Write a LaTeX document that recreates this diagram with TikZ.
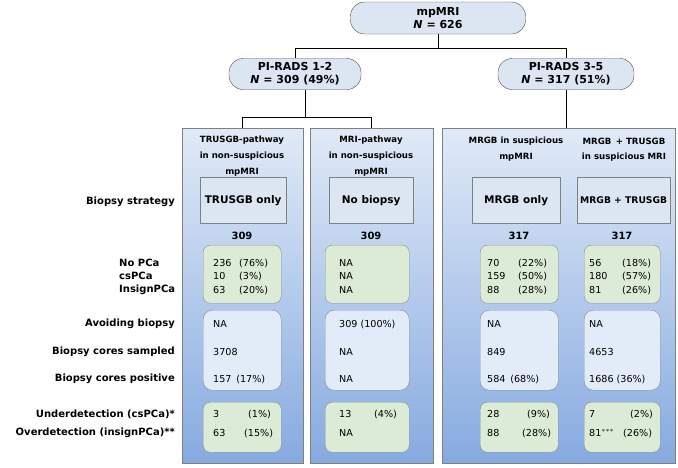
\documentclass[tikz,border=0pt]{standalone}
\usepackage{fontspec}
\setmainfont{DejaVu Sans}
\usetikzlibrary{positioning}
\definecolor{boxblue}{HTML}{DCE6F2}
\definecolor{coltop}{HTML}{E0EAF7}
\definecolor{colbot}{HTML}{86AAE0}
\definecolor{boxgreen}{HTML}{DCEBD5}
\definecolor{boxpale}{HTML}{E2ECF8}
\begin{document}
\begin{tikzpicture}[x=1pt, y=-1pt, font=\fontsize{9.6}{11}\selectfont]
\tikzstyle{level} = [draw=black!70, fill=boxblue, rounded corners=14pt,
    font=\fontsize{11}{13}\selectfont\bfseries, align=center, inner sep=1pt]
\tikzstyle{column} = [draw=black!50, top color=coltop, bottom color=colbot,
    inner sep=0pt, anchor=north west]
\tikzstyle{strategy} = [draw=black!50, fill=boxblue, anchor=north west,
    inner sep=0pt, font=\fontsize{10.5}{12}\selectfont\bfseries]
\tikzstyle{result} = [draw=black!45, fill=boxgreen, rounded corners=7pt,
    anchor=north west, inner sep=0pt]
\tikzstyle{cores} = [draw=black!45, fill=boxpale, rounded corners=9pt,
    anchor=north west, inner sep=0pt]
\tikzstyle{rowlabel} = [anchor=east, font=\fontsize{10}{12}\selectfont\bfseries, inner sep=0pt]
\tikzstyle{val} = [anchor=west, inner sep=0pt]
\tikzstyle{head} = [font=\fontsize{8.6}{10}\selectfont\bfseries, inner sep=0pt]
\tikzstyle{line} = [draw, thick]
\useasboundingbox (0,0) rectangle (678,467);

 % tree
 \node [level, minimum width=175pt, minimum height=32pt] (mpmri) at (438,18) {mpMRI\\ \textit{N} = 626};
 \node [level, minimum width=132pt, minimum height=31pt] (pirlow) at (295,74) {PI-RADS 1-2\\ \textit{N} = 309 (49\%)};
 \node [level, minimum width=136pt, minimum height=31pt] (pirhigh) at (566,74) {PI-RADS 3-5\\ \textit{N} = 317 (51\%)};

 % columns
 \node [column, minimum width=121pt, minimum height=335pt] (trus) at (182,128) {};
 \node [column, minimum width=123pt, minimum height=335pt] (mri) at (310,128) {};
 \node [column, minimum width=233pt, minimum height=335pt] (sus) at (442,128) {};

 \coordinate (split) at (305,117);
 \path [line] (mpmri.south) -- ++(0,14) -| (pirlow.north);
 \path [line] (mpmri.south) -- ++(0,14) -| (pirhigh.north);
 \path [line] (pirlow.south -| split) -- (split);
 \path [line] (split) -| (trus.north);
 \path [line] (split) -| (mri.north);
 \path [line] (pirhigh.south) -- (pirhigh.south |- sus.north);

 % headers
 \node [head] (h1) at (242,140) {TRUSGB-pathway};
 \node [head] (h2) at (242,156) {in non-suspicious};
 \node [head] (h3) at (242,172) {mpMRI};
 \node [head] (h4) at (371,140) {MRI-pathway};
 \node [head] (h5) at (371,156) {in non-suspicious};
 \node [head] (h6) at (371,172) {mpMRI};
 \node [head] (h7) at (516,141) {MRGB in suspicious};
 \node [head] (h8) at (516,157) {mpMRI};
 \node [head] (h9) at (624,141) {MRGB\, + TRUSGB};
 \node [head] (h10) at (624,157) {in suspicious MRI};

 % strategy
 \node [rowlabel] (strat) at (175,202) {Biopsy strategy};
 \node [strategy, minimum width=86pt, minimum height=46pt] (s1) at (200,177) {TRUSGB only};
 \node [strategy, minimum width=84pt, minimum height=46pt] (s2) at (329,177) {No biopsy};
 \node [strategy, minimum width=88pt, minimum height=46pt] (s3) at (472,177) {MRGB only};
 \node [strategy, minimum width=93pt, minimum height=46pt,
   font=\fontsize{9.2}{11}\selectfont\bfseries] (s4) at (577,177) {MRGB + TRUSGB};

 \node [head, font=\fontsize{10}{12}\selectfont\bfseries] (n1) at (242,236) {309};
 \node [head, font=\fontsize{10}{12}\selectfont\bfseries] (n2) at (371,236) {309};
 \node [head, font=\fontsize{10}{12}\selectfont\bfseries] (n3) at (519,236) {317};
 \node [head, font=\fontsize{10}{12}\selectfont\bfseries] (n4) at (622,236) {317};

 % outcome
 \node [rowlabel, anchor=west] (nopca) at (119,263) {No PCa};
 \node [rowlabel, anchor=west] (cspca) at (119,276) {csPCa};
 \node [rowlabel, anchor=west] (inpca) at (119,290) {InsignPCa};
 \node [result, minimum width=78pt, minimum height=58pt] (r1) at (203,245) {};
 \node [result, minimum width=84pt, minimum height=58pt] (r2) at (325,245) {};
 \node [result, minimum width=78pt, minimum height=58pt] (r3) at (480,245) {};
 \node [result, minimum width=76pt, minimum height=58pt] (r4) at (584,245) {};
 \foreach \y/\a/\b/\c/\d/\e/\f/\g/\h in {263/236/76/70/22/56/18/NA/NA,
     276/10/3/159/50/180/57/NA/NA, 290/63/20/88/28/81/26/NA/NA} {
   \node [val] at (213,\y) {\a};
   \node [val] at (239,\y) {(\b\%)};
   \node [val] at (487,\y) {\c};
   \node [val] at (518,\y) {(\d\%)};
   \node [val] at (589,\y) {\e};
   \node [val] at (622,\y) {(\f\%)};
   \node [val] at (339,\y) {\g};
 }

 % cores
 \node [rowlabel] (avoid) at (175,324) {Avoiding biopsy};
 \node [rowlabel] (sampled) at (175,352) {Biopsy cores sampled};
 \node [rowlabel] (positive) at (175,379) {Biopsy cores positive};
 \node [cores, minimum width=78pt, minimum height=80pt] (c1) at (203,310) {};
 \node [cores, minimum width=84pt, minimum height=80pt] (c2) at (325,310) {};
 \node [cores, minimum width=78pt, minimum height=80pt] (c3) at (480,310) {};
 \node [cores, minimum width=76pt, minimum height=80pt] (c4) at (584,310) {};
 \node [val] at (213,324) {NA};
 \node [val] at (213,352) {3708};
 \node [val] at (213,379) {157\enspace(17\%)};
 \node [val] at (339,324) {309 (100\%)};
 \node [val] at (339,352) {NA};
 \node [val] at (339,379) {NA};
 \node [val] at (487,324) {NA};
 \node [val] at (487,352) {849};
 \node [val] at (487,379) {584\enspace(68\%)};
 \node [val] at (589,324) {NA};
 \node [val] at (589,352) {4653};
 \node [val] at (589,379) {1686 (36\%)};

 % detection
 \node [rowlabel] (under) at (175,414) {Underdetection (csPCa)*};
 \node [rowlabel] (over) at (175,433) {Overdetection (insignPCa)**};
 \node [result, minimum width=78pt, minimum height=50pt] (d1) at (203,402) {};
 \node [result, minimum width=84pt, minimum height=50pt] (d2) at (325,402) {};
 \node [result, minimum width=78pt, minimum height=50pt] (d3) at (480,402) {};
 \node [result, minimum width=76pt, minimum height=50pt] (d4) at (584,402) {};
 \node [val] at (213,414) {3};
 \node [val] at (248,414) {(1\%)};
 \node [val] at (213,433) {63};
 \node [val] at (244,433) {(15\%)};
 \node [val] at (339,414) {13};
 \node [val] at (374,414) {(4\%)};
 \node [val] at (339,433) {NA};
 \node [val] at (487,414) {28};
 \node [val] at (527,414) {(9\%)};
 \node [val] at (487,433) {88};
 \node [val] at (522,433) {(28\%)};
 \node [val] at (589,414) {7};
 \node [val] at (630,414) {(2\%)};
 \node [val] at (589,433) {81$^{***}$};
 \node [val] at (623,433) {(26\%)};
\end{tikzpicture}
\end{document}
